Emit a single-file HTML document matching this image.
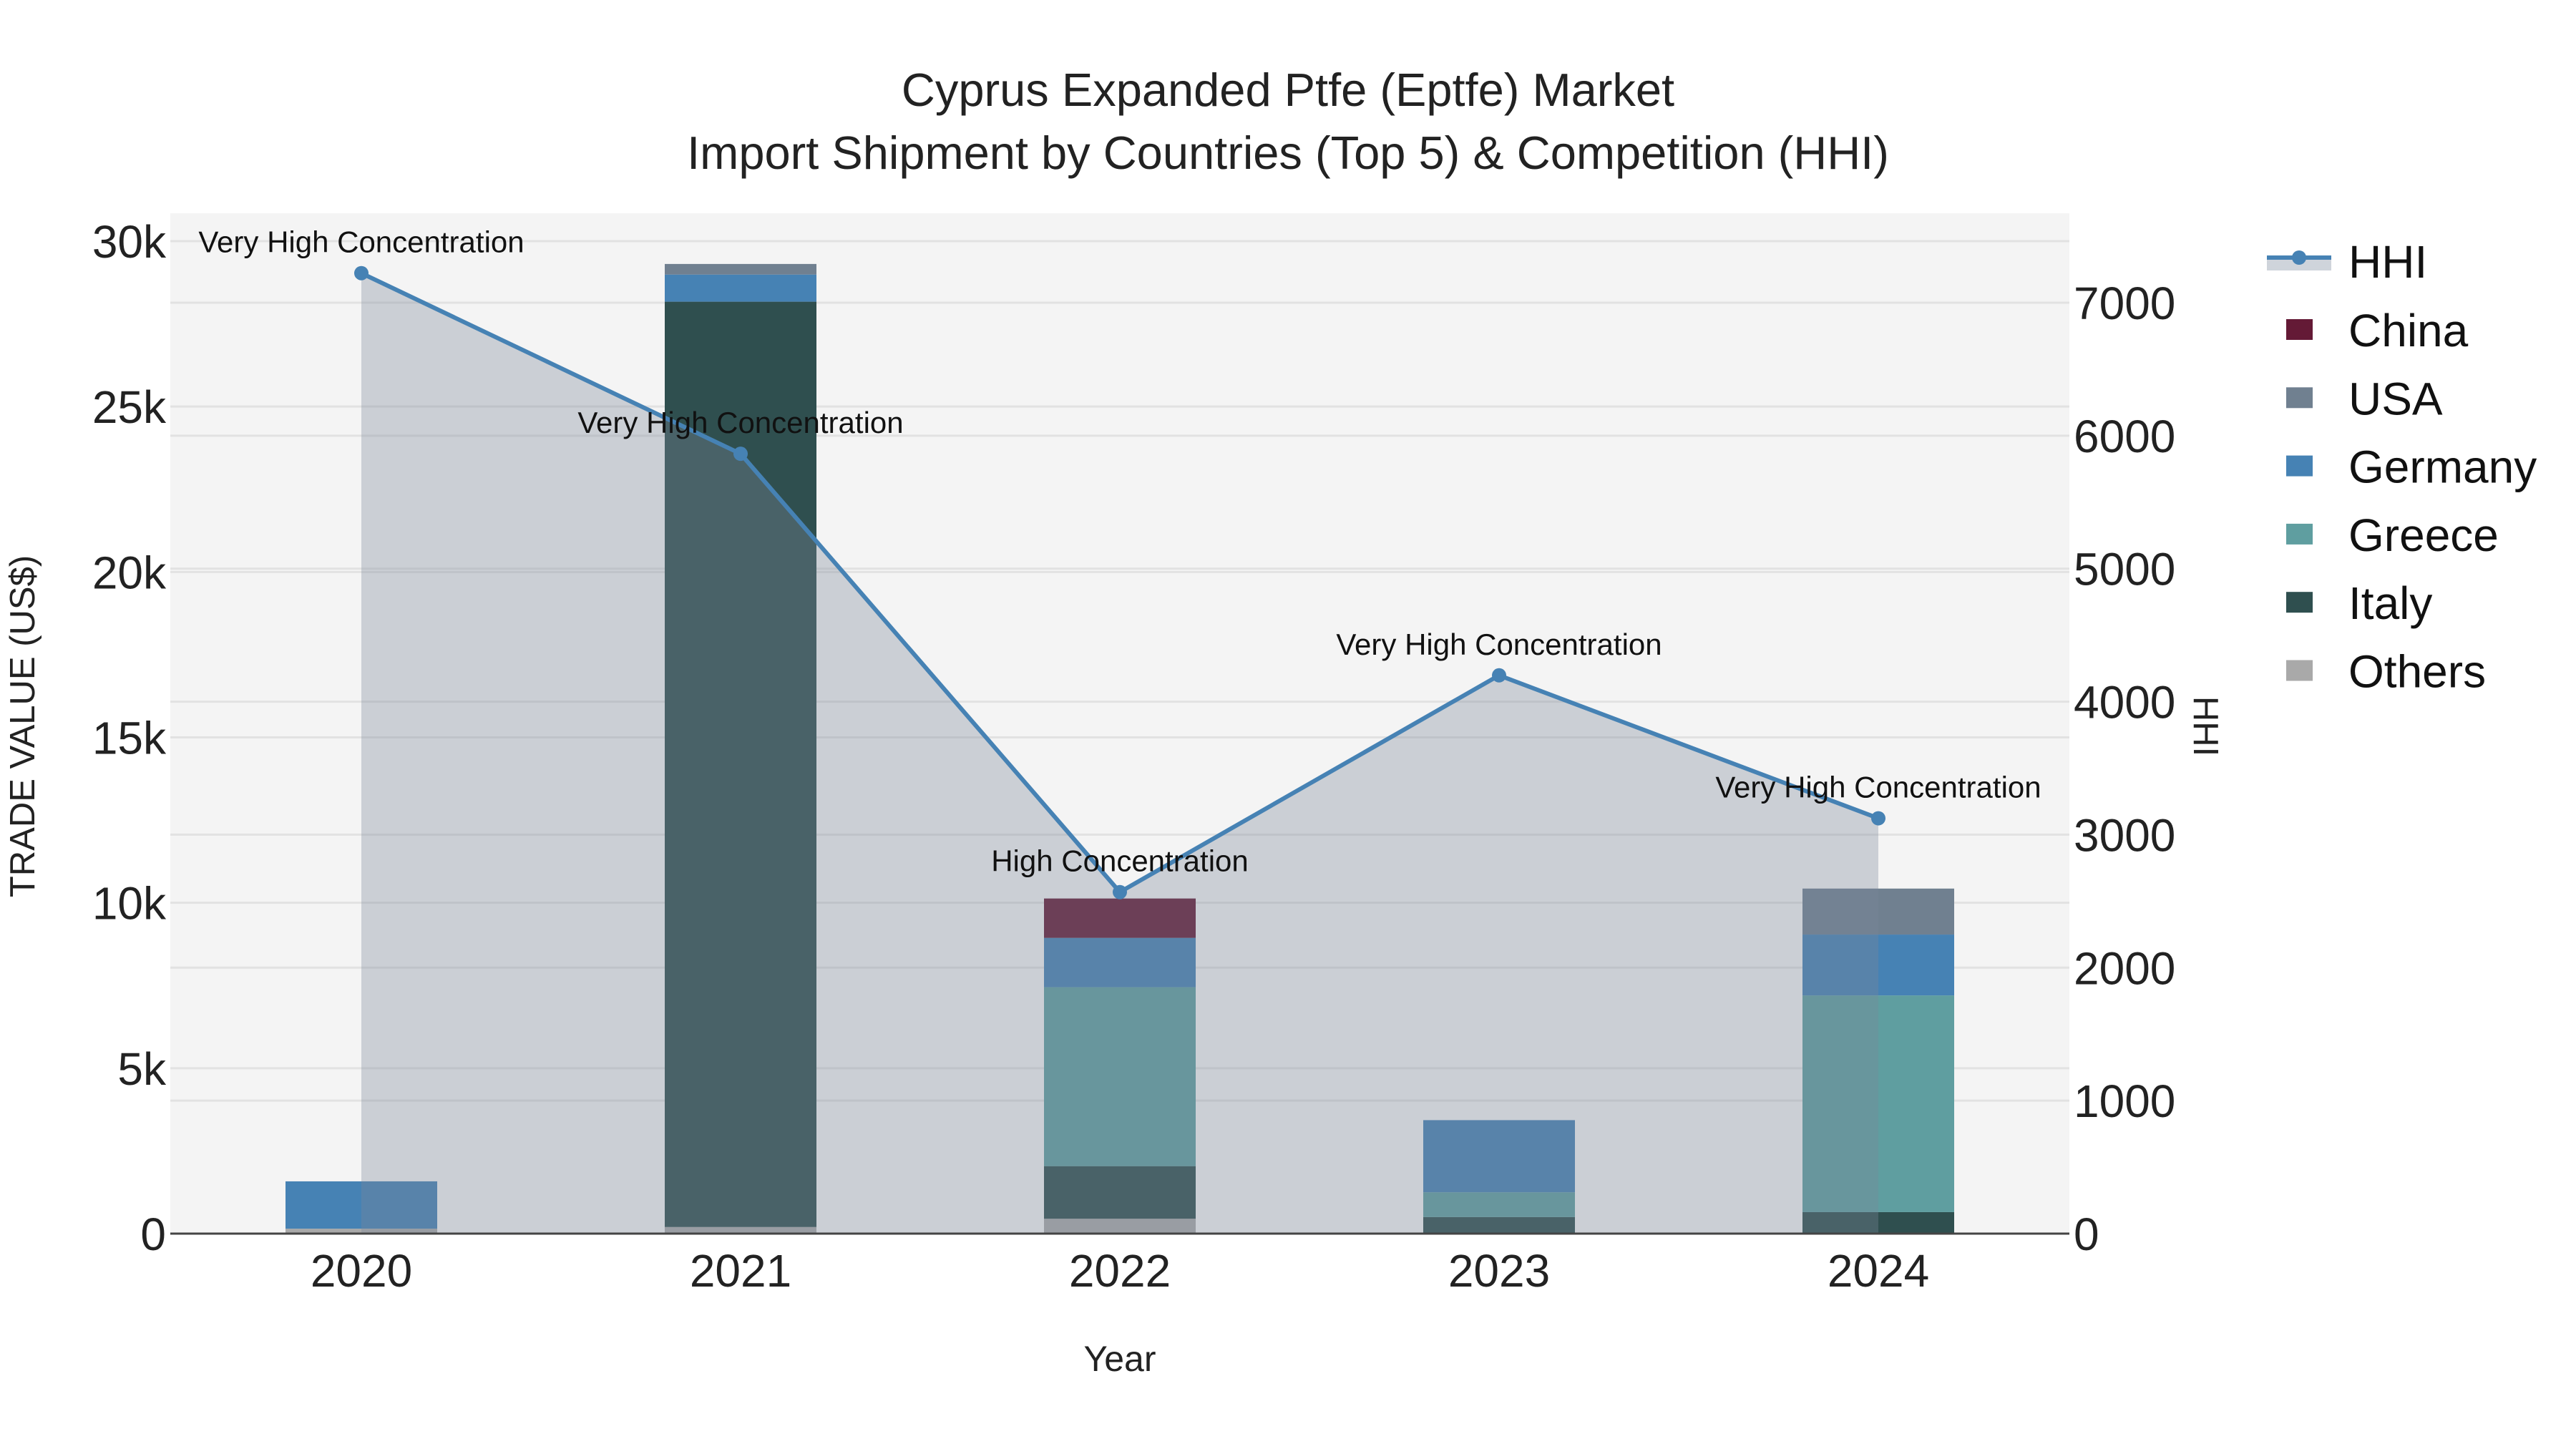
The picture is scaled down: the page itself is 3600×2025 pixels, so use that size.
<!DOCTYPE html>
<html><head><meta charset="utf-8">
<style>
html,body{margin:0;padding:0;background:#fff;}
svg{display:block;font-family:"Liberation Sans",Arial,sans-serif;}
</style></head>
<body>
<svg id="chart" width="3600" height="2025" viewBox="0 0 3600 2025" xmlns="http://www.w3.org/2000/svg">
  <rect width="3600" height="2025" fill="#ffffff"/>
  <g id="plot-bg-layer"></g>
  <g id="grid-layer"></g>
  <g id="bars-layer"></g>
  <g id="area-layer"></g>
  <g id="line-layer"></g>
  <g id="axes-layer"></g>
  <text x="1800" y="148" font-size="65" text-anchor="middle" fill="#222">Cyprus Expanded Ptfe (Eptfe) Market</text>
  <text x="1800" y="236" font-size="65" text-anchor="middle" fill="#222">Import Shipment by Countries (Top 5) &amp; Competition (HHI)</text>
  <text x="1565" y="1916" font-size="50" text-anchor="middle" fill="#222">Year</text>
  <text x="0" y="0" font-size="49" text-anchor="middle" fill="#222" transform="translate(48,1015) rotate(-90)">TRADE VALUE (US$)</text>
  <text x="0" y="0" font-size="49" text-anchor="middle" fill="#222" transform="translate(3066,1015) rotate(90)">HHI</text>
  <g id="legend"></g>
</svg>
<script>
const years = ['2020','2021','2022','2023','2024'];
const others  = [150, 200, 450, 0, 0];
const italy   = [0, 27970, 1590, 500, 650];
const greece  = [0, 0, 5410, 750, 6550];
const germany = [1430, 820, 1490, 2180, 1840];
const usa     = [0, 320, 0, 0, 1390];
const china   = [0, 0, 1190, 0, 0];
const hhi = [7222, 5864, 2568, 4198, 3123];
const hhiLabels = ['Very High Concentration','Very High Concentration','High Concentration','Very High Concentration','Very High Concentration'];
const yTicks = [0, 5000, 10000, 15000, 20000, 25000, 30000];
const yTickLabels = ['0','5k','10k','15k','20k','25k','30k'];
const y2Ticks = [0,1000,2000,3000,4000,5000,6000,7000];

const NS='http://www.w3.org/2000/svg';
const L=238, R=2892, T=298, B=1724;
const xC=i=>505+530*i;
const yL=v=>B-v*((B-337)/30000);
const yR=v=>B-v*((B-423)/7000);
function mk(tag,attrs,parent){const e=document.createElementNS(NS,tag);for(const k in attrs)e.setAttribute(k,attrs[k]);parent.appendChild(e);return e;}
const g=id=>document.getElementById(id);

const bg=mk('rect',{x:L,y:T,width:R-L,height:B-T,fill:'#f4f4f4'},g('plot-bg-layer'));



yTicks.forEach((v,i)=>{
  const ln=mk('line',{x1:L,x2:R,y1:yL(v),y2:yL(v),stroke:'#e2e2e2','stroke-width':3},g('grid-layer'));
  
  
  const t=mk('text',{x:L-6,y:yL(v)+23,'font-size':64,'text-anchor':'end',fill:'#222'},g('axes-layer'));
  t.textContent=yTickLabels[i];
  
  
});
y2Ticks.forEach(v=>{
  const ln=mk('line',{x1:L,x2:R,y1:yR(v),y2:yR(v),stroke:'#e2e2e2','stroke-width':3},g('grid-layer'));
  
  
  const t=mk('text',{x:R+6,y:yR(v)+23,'font-size':64,'text-anchor':'start',fill:'#222'},g('axes-layer'));
  t.textContent=String(v);
  
  
});

const series=[['others',others,'#a9a9a9'],['italy',italy,'#2f4f4f'],['greece',greece,'#5f9ea0'],['germany',germany,'#4682b4'],['usa',usa,'#708090'],['china',china,'#641a36']];
const bw=212;
years.forEach((yr,i)=>{
  let base=0;
  series.forEach(([nm,arr,col])=>{
    const v=arr[i]; if(!v) return;
    const r=mk('rect',{x:xC(i)-bw/2,y:yL(base+v),width:bw,height:yL(base)-yL(base+v),fill:col},g('bars-layer'));
    
    
    base+=v;
  });
  const t=mk('text',{x:xC(i),y:1798,'font-size':64,'text-anchor':'middle',fill:'#222'},g('axes-layer'));
  t.textContent=yr;
  
  
});

let d='M'+xC(0)+','+B;
hhi.forEach((v,i)=>{d+=' L'+xC(i)+','+yR(v);});
d+=' L'+xC(hhi.length-1)+','+B+' Z';
const area=mk('path',{d:d,fill:'rgb(123,135,152)','fill-opacity':0.34},g('area-layer'));


const pts=hhi.map((v,i)=>xC(i)+','+yR(v)).join(' ');
const line=mk('polyline',{points:pts,fill:'none',stroke:'#4682b4','stroke-width':6},g('line-layer'));


hhi.forEach((v,i)=>{
  const c=mk('circle',{cx:xC(i),cy:yR(v),r:10,fill:'#4682b4'},g('line-layer'));
  
  
  const t=mk('text',{x:xC(i),y:yR(v)-29,'font-size':42,'text-anchor':'middle',fill:'#111'},g('line-layer'));
  t.textContent=hhiLabels[i];
  
  
});

const ax=mk('line',{x1:L,x2:R,y1:B,y2:B,stroke:'#444','stroke-width':3},g('axes-layer'));



const lg=g('legend');
const legItems=[['China','#641a36'],['USA','#708090'],['Germany','#4682b4'],['Greece','#5f9ea0'],['Italy','#2f4f4f'],['Others','#a9a9a9']];
const l0=mk('g',{},lg);


mk('rect',{x:3168,y:362,width:90,height:16,fill:'#cfd4db'},l0);
mk('line',{x1:3168,x2:3258,y1:360,y2:360,stroke:'#4682b4','stroke-width':6},l0);
mk('circle',{cx:3213,cy:360,r:10,fill:'#4682b4'},l0);
const ht=mk('text',{x:3282,y:388,'font-size':64,fill:'#111'},l0); ht.textContent='HHI';
legItems.forEach(([nm,col],k)=>{
  const yy=461+k*95.3;
  const e=mk('g',{},lg);
  
  
  mk('rect',{x:3195,y:yy-15,width:37,height:29,fill:col},e);
  const t=mk('text',{x:3282,y:yy+23,'font-size':64,fill:'#111'},e); t.textContent=nm;
});
</script>
</body></html>
